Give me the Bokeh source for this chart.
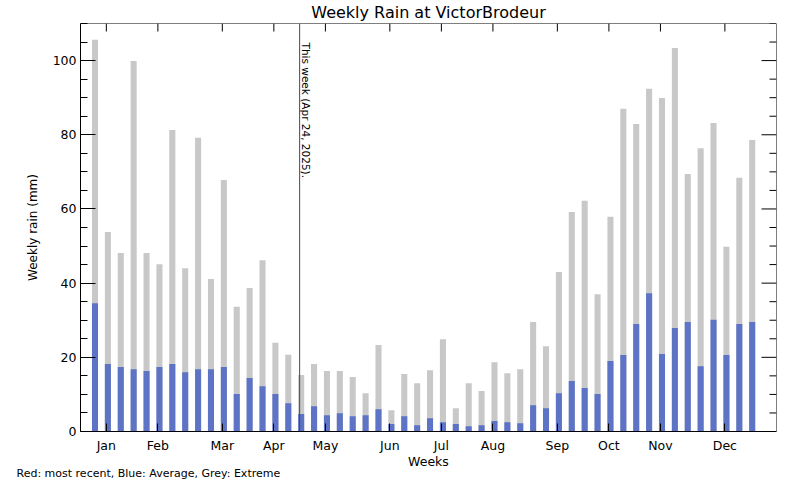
import math
from bokeh.plotting import figure
from bokeh.models import Range1d, LinearAxis, FixedTicker, SingleIntervalTicker, Span, Label, Title
from bokeh.embed import file_html
from bokeh.resources import INLINE

# ---------------- data ----------------
weeks = list(range(1, 53))
extreme = [105.6, 53.8, 48.1, 99.9, 48.1, 45.1, 81.3, 44.0, 79.2, 41.1,
           67.8, 33.6, 38.7, 46.2, 23.9, 20.7, 15.2, 18.2, 16.3, 16.3,
           14.7, 10.3, 23.3, 5.7, 15.5, 13.0, 16.5, 24.9, 6.3, 13.0,
           10.9, 18.7, 15.7, 16.8, 29.5, 23.0, 43.0, 59.2, 62.2, 37.0,
           57.9, 87.0, 82.9, 92.4, 89.9, 103.4, 69.4, 76.4, 83.2, 49.8,
           68.4, 78.6]
average = [34.6, 18.2, 17.4, 16.8, 16.3, 17.4, 18.2, 16.0, 16.8, 16.8,
           17.4, 10.1, 14.4, 12.2, 10.1, 7.6, 4.7, 6.8, 4.4, 4.9,
           4.1, 4.4, 6.0, 2.0, 4.1, 1.7, 3.6, 2.5, 2.0, 1.4,
           1.7, 2.8, 2.5, 2.2, 7.1, 6.3, 10.3, 13.6, 11.7, 10.1,
           19.0, 20.6, 29.0, 37.3, 20.9, 27.9, 29.5, 17.6, 30.1, 20.6,
           29.0, 29.5]
month_labels = ["Jan", "Feb", "Mar", "Apr", "May", "Jun",
                "Jul", "Aug", "Sep", "Oct", "Nov", "Dec"]
month_weeks = [2, 6, 11, 15, 19, 24, 28, 32, 37, 41, 45, 50]
this_week = 17
this_week_text = "This week (Apr 24, 2025)."
title_text = "Weekly Rain at VictorBrodeur"
y_label = "Weekly rain (mm)"
x_label = "Weeks"
footer_text = "Red: most recent, Blue: Average, Grey: Extreme"

# ---------------- styling ----------------
FONT = "DejaVu Sans"
GREY = "#c8c8c8"
BLUE = "#5d73c6"
TICK_SHIFT = 0.12
X0, X1 = -0.125, 53.886
Y0, Y1 = 0, 110
Y_MAJOR, Y_MINOR_N = 20, 4
W, H = 800, 480
BL, BR, BT, BB = 80, 24, 23, 49
FW, FH = W - BL - BR, H - BT - BB

tick_pos = [round(w - TICK_SHIFT, 2) for w in month_weeks]

p = figure(width=W, height=H,
           min_border_left=BL, min_border_right=BR,
           min_border_top=BT, min_border_bottom=BB,
           x_range=Range1d(X0, X1), y_range=Range1d(Y0, Y1),
           output_backend="svg", toolbar_location=None,
           x_axis_location=None, y_axis_location=None)
p.outline_line_color = None
p.xgrid.visible = False
p.ygrid.visible = False
p.background_fill_color = "white"
p.border_fill_color = "white"

# title (above the frame)
p.title.text = title_text
p.title.align = "center"
p.title.vertical_align = "top"
p.title.text_font = FONT
p.title.text_font_size = "16px"
p.title.text_font_style = "normal"
p.title.text_color = "black"
p.title.standoff = 0


def base_axis(ax, tick_in, minor_in):
    ax.axis_line_color = "black"
    ax.axis_line_width = 1
    ax.major_tick_line_color = "black"
    ax.minor_tick_line_color = "black"
    ax.major_tick_in = tick_in
    ax.major_tick_out = 0
    ax.minor_tick_in = minor_in
    ax.minor_tick_out = 0
    ax.major_label_text_font = FONT
    ax.major_label_text_color = "black"
    ax.axis_label_text_font = FONT
    ax.axis_label_text_font_style = "normal"
    ax.axis_label_text_color = "black"


# bottom axis (months)
xb = LinearAxis(ticker=FixedTicker(ticks=tick_pos, minor_ticks=[]),
                major_label_overrides={t: m for t, m in zip(tick_pos, month_labels)},
                axis_label=x_label)
base_axis(xb, 8, 0)
xb.major_label_text_font_size = "12.5px"
xb.major_label_standoff = 6
xb.axis_label_text_font_size = "12.5px"
xb.axis_label_text_line_height = 0.6
try:
    xb.axis_label_standoff = -2
except Exception:
    xb.axis_label_standoff = 0
p.add_layout(xb, "below")

# footer legend text (below the axis)
footer = Title(text=footer_text, align="left", offset=-64,
               text_font=FONT, text_font_size="11px", text_font_style="normal",
               text_color="black")
try:
    footer.standoff = -14
except Exception:
    footer.standoff = 0
p.add_layout(footer, "below")

# left axis
yl = LinearAxis(ticker=SingleIntervalTicker(interval=Y_MAJOR, num_minor_ticks=Y_MINOR_N),
                axis_label=y_label)
base_axis(yl, 15, 7)
yl.major_label_text_font_size = "12.5px"
yl.major_label_standoff = 4
yl.axis_label_text_font_size = "12px"
yl.axis_label_standoff = 10
p.add_layout(yl, "left")

# frame lines on top and right
p.add_layout(Span(location=Y1, dimension="width", line_color="black", line_width=1))
p.add_layout(Span(location=X1, dimension="height", line_color="black", line_width=1))

# inward ticks on top (months) and right (rain)
p.ray(x=tick_pos, y=[Y1] * len(tick_pos), length=8, length_units="screen",
      angle=-math.pi / 2, line_color="black", line_width=1)
r_major = list(range(Y0, Y1 + 1, Y_MAJOR))
step = Y_MAJOR / (Y_MINOR_N + 0.0)
r_minor = [k * step for k in range(1, int(Y1 / step) + 1) if (k * step) % Y_MAJOR != 0]
p.ray(x=[X1] * len(r_major), y=r_major, length=15, length_units="screen",
      angle=math.pi, line_color="black", line_width=1)
p.ray(x=[X1] * len(r_minor), y=r_minor, length=7, length_units="screen",
      angle=math.pi, line_color="black", line_width=1)

# bars
p.vbar(x=weeks, top=extreme, width=0.47, fill_color=GREY, line_color=None)
p.vbar(x=weeks, top=average, width=0.47, fill_color=BLUE, line_color=None)

# this-week marker
p.add_layout(Span(location=this_week - TICK_SHIFT, dimension="height",
                  line_color="#4a4a4a", line_width=1))
p.add_layout(Label(x=this_week - TICK_SHIFT, y=FH - 19, x_units="data", y_units="screen",
                   x_offset=0, text=this_week_text, angle=-math.pi / 2,
                   text_align="left", text_baseline="bottom",
                   text_font=FONT, text_font_size="10.5px", text_color="black"))

open("out.html", "w").write(file_html(p, INLINE))
